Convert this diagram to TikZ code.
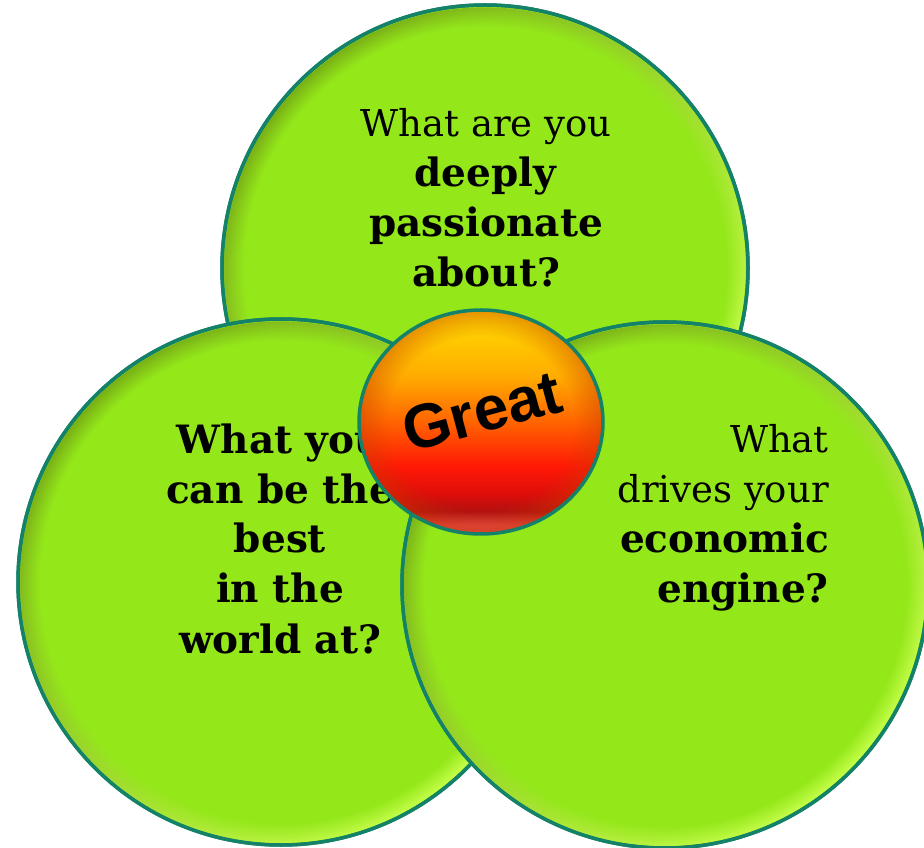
\documentclass[tikz,border=0pt]{standalone}
\usepackage{fontspec}
\setmainfont{DejaVu Serif}
\newfontfamily\ballfont{Liberation Sans}
\usetikzlibrary{fadings,shapes.geometric}

\definecolor{discgreen}{RGB}{148,232,26}
\definecolor{discrim}{RGB}{20,130,104}
\definecolor{discshade}{RGB}{122,178,22}
\definecolor{disclight}{RGB}{196,255,72}
\definecolor{ballA}{RGB}{255,214,0}
\definecolor{ballB}{RGB}{255,170,0}
\definecolor{ballC}{RGB}{255,100,0}
\definecolor{ballD}{RGB}{255,24,6}
\definecolor{ballE}{RGB}{222,14,10}
\definecolor{ballF}{RGB}{178,16,16}
\definecolor{ballG}{RGB}{226,70,70}
\definecolor{ballrim}{RGB}{200,60,0}

% vertical colour run of the ball, bottom (25bp) to top (75bp)
\pgfdeclareverticalshading{ballshade}{100bp}{%
  color(0bp)=(ballG); color(25bp)=(ballG); color(27bp)=(ballG);
  color(30bp)=(ballF); color(34bp)=(ballE); color(40bp)=(ballD);
  color(50bp)=(ballC); color(60bp)=(ballB); color(72bp)=(ballA);
  color(75bp)=(ballA); color(100bp)=(ballA)}

% opaque only close to the outline
\pgfdeclareradialshading{rimmask}{\pgfpointorigin}{%
  color(0bp)=(black); color(23bp)=(black); color(24.8bp)=(white);
  color(50bp)=(white)}
\pgfdeclarefading{rimfade}{\pgfuseshading{rimmask}}
\pgfdeclareradialshading{ballmask}{\pgfpointorigin}{%
  color(0bp)=(black); color(19bp)=(black); color(25bp)=(white);
  color(50bp)=(white)}
\pgfdeclarefading{ballfade}{\pgfuseshading{ballmask}}

% the light lines are set a little smaller than the bold ones
\newcommand\lite[1]{{\fontsize{37}{50}\selectfont #1}}

\tikzset{
  disc/.style={circle, fill=discgreen, draw=discrim, line width=3.5pt,
    minimum size=526pt, inner sep=0pt},
  question/.style={font=\fontsize{39}{50}\selectfont, align=center,
    inner sep=0pt},
}

\newcommand\bevel[1]{%
  \shade[top color=discshade, middle color=discgreen, bottom color=disclight,
    shading angle=45, path fading=rimfade] (#1.center) circle[radius=261pt];
  \draw[discrim, line width=3.5pt] (#1.center) circle[radius=263pt];
}

\begin{document}
\begin{tikzpicture}[x=1pt,y=1pt]
  \useasboundingbox (0,0) rectangle (924,847);
  \clip (0,0) rectangle (924,847);

  % the three discs
  \node[disc] (passion) at (485,579) {};
  \bevel{passion}
  \node[disc] (best) at (281,265) {};
  \bevel{best}
  \node[disc] (engine) at (665,262) {};
  \bevel{engine}

  % questions (anchored on the baseline of their last line)
  \node[question, anchor=base] (qpassion) at (486,560)
    {\lite{What are you}\\ \textbf{deeply}\\ \textbf{passionate}\\ \textbf{about?}};
  \node[question, anchor=base, font=\fontsize{39}{50}\selectfont\bfseries]
    (qbest) at (280,194)
    {What you\\ can be the\\ best\\ in the\\ world at?};
  \node[question, anchor=base east, align=right] (qengine) at (829,244)
    {\lite{What}\\ \lite{drives your}\\ \textbf{economic}\\ \textbf{engine?}};

  % the ball in the middle
  \node[ellipse, minimum width=244pt, minimum height=224pt, inner sep=0pt]
    (ball) at (481,425) {};
  \shade[shading=ballshade] (ball.center) ellipse[x radius=122pt, y radius=112pt];
  \fill[ballrim, opacity=0.45, path fading=ballfade]
    (ball.center) ellipse[x radius=122pt, y radius=112pt];
  \draw[discrim, line width=3.5pt]
    (ball.center) ellipse[x radius=122pt, y radius=112pt];
  \node[font=\ballfont\bfseries\fontsize{62}{62}\selectfont, rotate=15,
    inner sep=0pt] (great) at (482,436) {Great};
\end{tikzpicture}
\end{document}
